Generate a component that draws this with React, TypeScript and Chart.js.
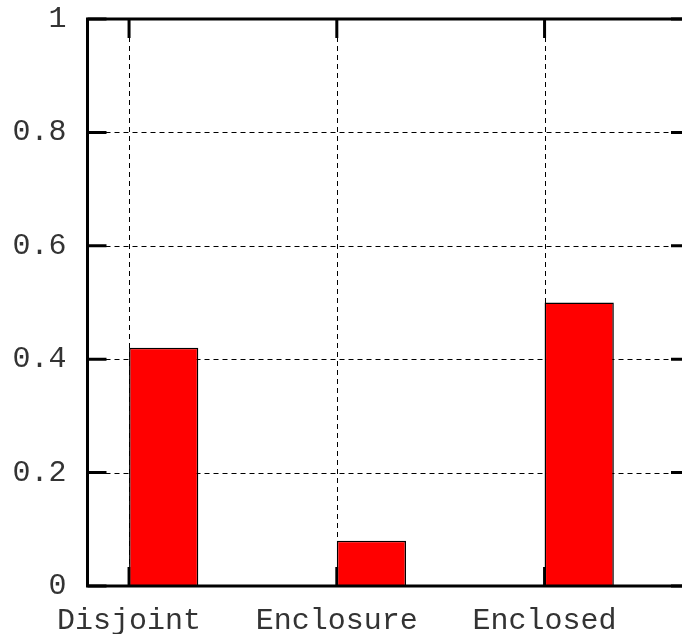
import React, { useEffect, useRef } from "react";
import { Chart, registerables } from "chart.js";

Chart.register(...registerables);

const categories = ["Disjoint", "Enclosure", "Enclosed"];
const values = [0.42, 0.08, 0.5];
const yTickValues = [0, 0.2, 0.4, 0.6, 0.8, 1];
const yTickLabels = ["0", "0.2", "0.4", "0.6", "0.8", "1"];

const FONT = { family: "'Liberation Mono', 'Courier New', monospace", size: 30, weight: "normal" as const };
const TEXT = "#333";

const framePlugin = {
  id: "gnuFrame",
  beforeDatasetsDraw(chart: any) {
    const { ctx, chartArea: a, scales } = chart;
    const x = scales.x, y = scales.y;
    ctx.save();
    // grid
    ctx.strokeStyle = "#000";
    ctx.lineWidth = 1;
    ctx.setLineDash([5, 4]);
    yTickValues.forEach((v) => {
      if (v === 0 || v === 1) return;
      const py = Math.round(y.getPixelForValue(v)) + 0.5;
      ctx.beginPath();
      ctx.moveTo(a.left, py);
      ctx.lineTo(a.right, py);
      ctx.stroke();
    });
    categories.forEach((_, i) => {
      const px = Math.round(x.getPixelForValue(i)) + 0.5;
      ctx.beginPath();
      ctx.moveTo(px, a.top);
      ctx.lineTo(px, a.bottom);
      ctx.stroke();
    });
    // tick marks
    ctx.setLineDash([]);
    ctx.lineWidth = 3;
    const tl = 19;
    yTickValues.forEach((v) => {
      const py = y.getPixelForValue(v);
      ctx.beginPath();
      ctx.moveTo(a.left, py);
      ctx.lineTo(a.left + tl, py);
      ctx.moveTo(a.right, py);
      ctx.lineTo(a.right - tl, py);
      ctx.stroke();
    });
    categories.forEach((_, i) => {
      const px = x.getPixelForValue(i);
      ctx.beginPath();
      ctx.moveTo(px, a.top);
      ctx.lineTo(px, a.top + tl);
      ctx.moveTo(px, a.bottom);
      ctx.lineTo(px, a.bottom - tl);
      ctx.stroke();
    });
    ctx.restore();
  },
  afterDatasetsDraw(chart: any) {
    const { ctx, chartArea: a } = chart;
    ctx.save();
    ctx.strokeStyle = "#000";
    ctx.lineWidth = 3;
    ctx.beginPath();
    ctx.moveTo(a.right, a.top);
    ctx.lineTo(a.left, a.top);
    ctx.lineTo(a.left, a.bottom);
    ctx.lineTo(a.right, a.bottom);
    ctx.lineTo(a.right, a.top);
    ctx.stroke();
    ctx.restore();
  },
};

export default function App() {
  const ref = useRef<HTMLCanvasElement | null>(null);
  useEffect(() => {
    if (!ref.current) return;
    const chart = new Chart(ref.current, {
      type: "bar",
      data: {
        datasets: [
          {
            data: values.map((v, i) => ({ x: i + 1 / 6, y: v })),
            backgroundColor: "#ff0000",
            borderColor: "#000",
            borderWidth: 1.5,
            categoryPercentage: 1,
            barPercentage: 1 / 3,
          },
        ],
      },
      options: {
        animation: false,
        responsive: false,
        layout: { padding: { top: 19, right: 0, left: 0, bottom: 0 } },
        plugins: { legend: { display: false }, tooltip: { enabled: false } },
        scales: {
          x: {
            type: "linear",
            offset: false,
            min: -0.2,
            max: 2.7,
            grid: { display: false },
            border: { display: false },
            afterBuildTicks: (s: any) => {
              s.ticks = categories.map((_, i) => ({ value: i }));
            },
            afterFit: (s: any) => {
              s.height = 48;
              s.paddingLeft = 0;
              s.paddingRight = 0;
            },
            ticks: {
              autoSkip: false,
              maxRotation: 0,
              padding: 9,
              color: TEXT,
              font: FONT,
              callback: (v: any) => categories[v] ?? "",
            },
          },
          y: {
            min: 0,
            max: 1,
            grid: { display: false },
            border: { display: false },
            afterBuildTicks: (s: any) => {
              s.ticks = yTickValues.map((v) => ({ value: v }));
            },
            afterFit: (s: any) => {
              s.width = 87.5;
              s.paddingTop = 0;
              s.paddingBottom = 0;
            },
            ticks: {
              padding: 13,
              color: TEXT,
              font: FONT,
              callback: (_v: any, i: number) => yTickLabels[i],
            },
          },
        },
      },
      plugins: [framePlugin],
    });
    return () => chart.destroy();
  }, []);
  return (
    <div style={{ position: "fixed", left: 0, top: 0, width: 682, height: 634, overflow: "hidden", background: "#fff" }}>
      <canvas ref={ref} width={690} height={634} style={{ display: "block" }} />
    </div>
  );
}
